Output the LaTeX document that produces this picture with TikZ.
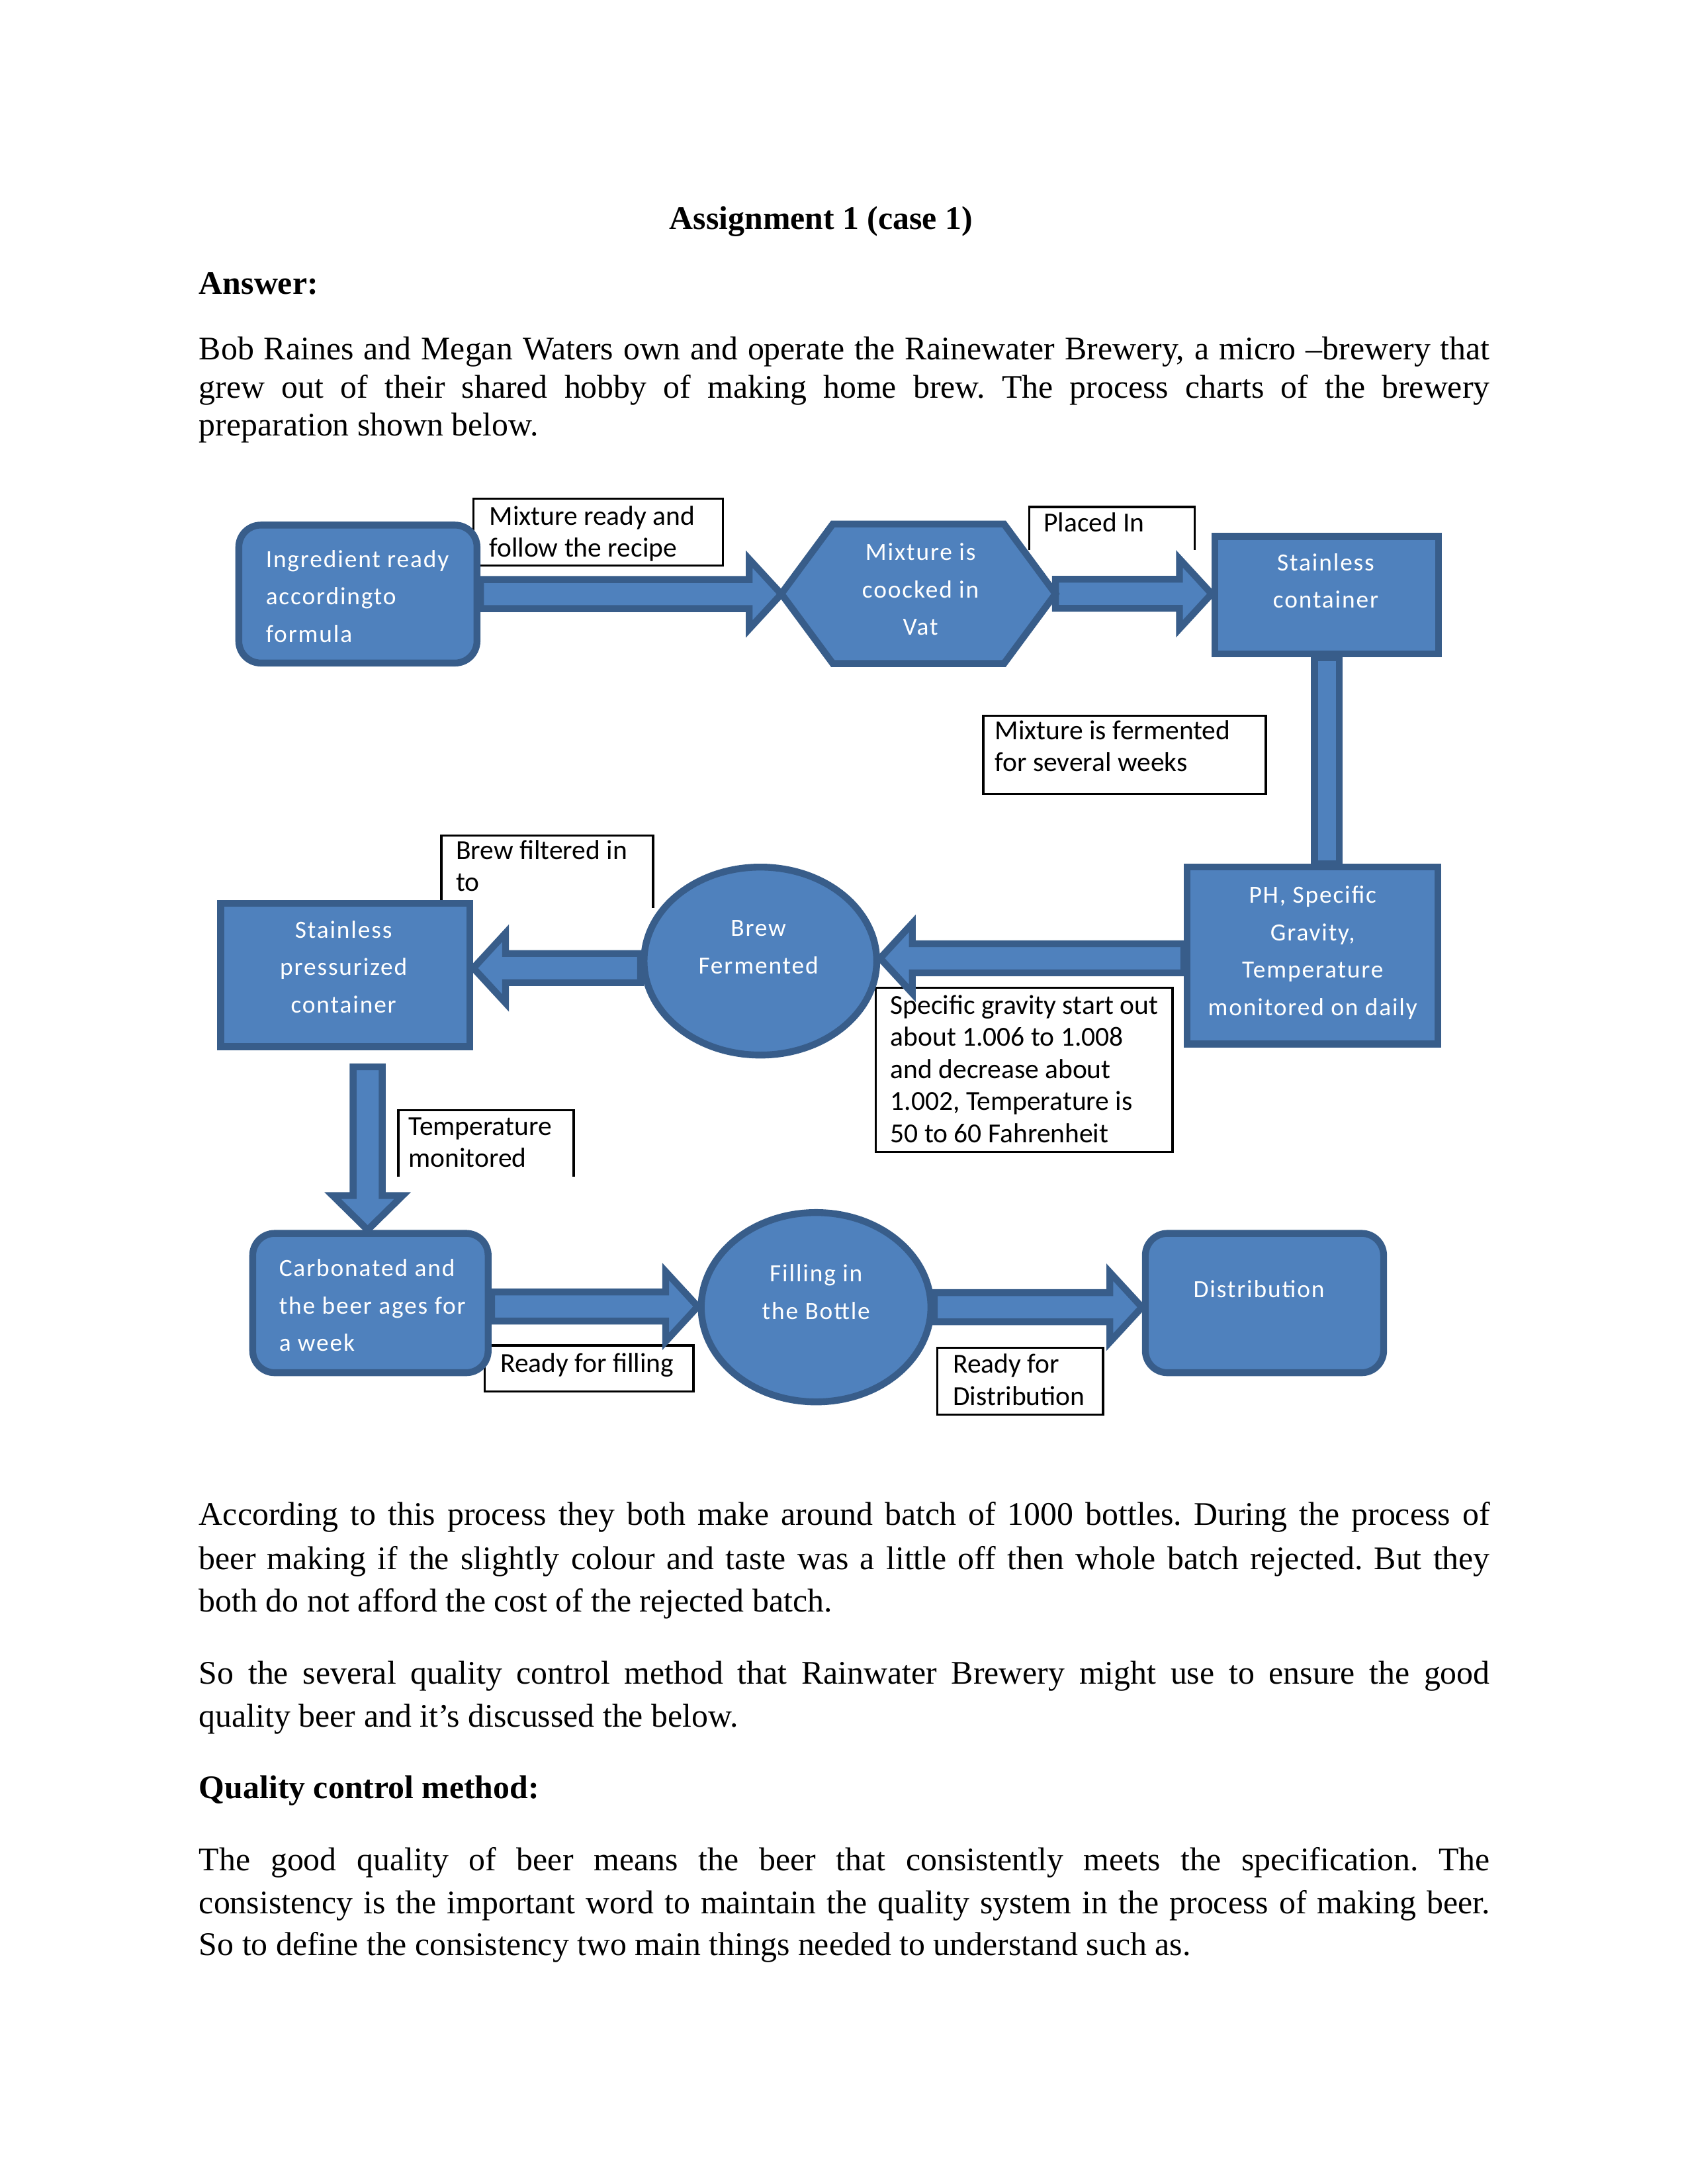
\documentclass[tikz,border=0pt]{standalone}
\usepackage{fontspec}
\setmainfont{Liberation Serif}
\newfontfamily\diagfont{Carlito}
\newfontfamily\boxfont[LetterSpace=5]{Carlito}
\usetikzlibrary{shapes.geometric,calc}
\definecolor{blu}{RGB}{79,129,189}
\definecolor{bdr}{RGB}{56,93,138}
\pgfdeclarelayer{bg}
\pgfsetlayers{bg,main}
\frenchspacing
\newcommand{\blkH}[2]{\draw[blk] let \p1=(#1), \p2=(#2), \n1={sign(\x2-\x1)} in
 ({\x1},{\y1+5.3pt}) -- ({\x2-(\n1)*11.7pt},{\y1+5.3pt}) -- ({\x2-(\n1)*11.7pt},{\y1+12.7pt}) -- ({\x2},{\y1}) -- ({\x2-(\n1)*11.7pt},{\y1-12.7pt}) -- ({\x2-(\n1)*11.7pt},{\y1-5.3pt}) -- ({\x1},{\y1-5.3pt}) -- cycle;}
\newcommand{\blkV}[2]{\draw[blk] let \p1=(#1), \p2=(#2), \n1={sign(\y2-\y1)} in
 ({\x1+5.3pt},{\y1}) -- ({\x1+5.3pt},{\y2-(\n1)*12.5pt}) -- ({\x1+12.7pt},{\y2-(\n1)*12.5pt}) -- ({\x1},{\y2}) -- ({\x1-12.7pt},{\y2-(\n1)*12.5pt}) -- ({\x1-5.3pt},{\y2-(\n1)*12.5pt}) -- ({\x1-5.3pt},{\y1}) -- cycle;}
\begin{document}
\begin{tikzpicture}[x=0.5069pt,y=-0.5069pt,
  shp/.style={draw=bdr, fill=blu, line width=2.5pt, inner sep=0pt},
  rbox/.style={shp, rectangle, rounded corners=8pt},
  sbox/.style={shp, rectangle},
  ell/.style={shp, ellipse},
  blk/.style={draw=bdr, fill=blu, line width=2.5pt, line join=miter},
  lblbox/.style={draw=black, line width=0.8pt, fill=white},
  ltxt/.style={font=\diagfont\fontsize{10}{11.7}\selectfont, align=left, inner sep=0pt, anchor=base west},
  wtxt/.style={font=\boxfont\fontsize{9}{13.6}\selectfont, text=white, inner sep=0pt, anchor=base, align=center},
  wtxtl/.style={wtxt, anchor=base west, align=left},
  body/.style={font=\fontsize{12}{14}\selectfont, inner sep=0pt, anchor=base west},
  bodyb/.style={font=\bfseries\fontsize{12}{14}\selectfont, inner sep=0pt, anchor=base west}]
\useasboundingbox (0,0) rectangle (1212,1568);

% ---------- body text ----------
\node[bodyb, anchor=base] (title) at (589.6,164.5) {Assignment 1 (case 1)};
\node[bodyb] (ans) at (142.6,211) {Answer:};
\node[body] (p1a) at (142.6,258) {\makebox[469.8pt][s]{Bob Raines and Megan Waters own and operate the Rainewater Brewery, a micro –brewery that}};
\node[body] (p1b) at (142.6,286) {\makebox[469.8pt][s]{grew out of their shared hobby of making home brew. The process charts of the brewery}};
\node[body] (p1c) at (142.6,313) {preparation shown below.};

\node[body] (p2a) at (142.6,1095) {\makebox[469.8pt][s]{According to this process they both make around batch of 1000 bottles. During the process of}};
\node[body] (p2b) at (142.6,1127) {\makebox[469.8pt][s]{beer making if the slightly colour and taste was a little off then whole batch rejected. But they}};
\node[body] (p2c) at (142.6,1157) {both do not afford the cost of the rejected batch.};
\node[body] (p3a) at (142.6,1209) {\makebox[469.8pt][s]{So the several quality control method that Rainwater Brewery might use to ensure the good}};
\node[body] (p3b) at (142.6,1240) {quality beer and it’s discussed the below.};
\node[bodyb] (qcm) at (142.6,1291) {Quality control method:};
\node[body] (p4a) at (142.6,1343) {\makebox[469.8pt][s]{The good quality of beer means the beer that consistently meets the specification. The}};
\node[body] (p4b) at (142.6,1374) {\makebox[469.8pt][s]{consistency is the important word to maintain the quality system in the process of making beer.}};
\node[body] (p4c) at (142.6,1404) {So to define the consistency two main things needed to understand such as.};

% ---------- shapes ----------
\node[rbox, minimum width=86.7pt, minimum height=50.2pt] (ing) at (257,426.5) {};
\node[inner sep=0pt, minimum width=99.4pt, minimum height=50.4pt] (hex) at (659.5,426.3) {};
\draw[shp] (hex.west) -- ($(hex.north west)+(37,0)$) -- ($(hex.north east)+(-37,0)$) -- (hex.east) -- ($(hex.south east)+(-37,0)$) -- ($(hex.south west)+(37,0)$) -- cycle;
\node[sbox, minimum width=81.4pt, minimum height=42.8pt] (sc) at (952.8,427.3) {};
\node[sbox, minimum width=91.2pt, minimum height=64.4pt] (ph) at (942.5,686) {};
\node[ell, minimum width=84.7pt, minimum height=68.4pt] (brew) at (546,690) {};
\node[sbox, minimum width=90.7pt, minimum height=52.2pt] (sp) at (248,700) {};
\node[rbox, minimum width=85.7pt, minimum height=50.7pt] (carb) at (266,935.5) {};
\node[ell, minimum width=83.6pt, minimum height=68.9pt] (fill) at (586,938.5) {};
\node[rbox, minimum width=86.7pt, minimum height=50.7pt] (dist) at (908,935.5) {};

% ---------- labels and connectors (behind shapes) ----------
\begin{pgfonlayer}{bg}
\draw[lblbox] (340,358) rectangle (519,406);
\draw[lblbox] (739,395) |- (858,364) -- (858,395);
\draw[lblbox] (706,514) rectangle (909,570);
\draw[lblbox] (317,652) |- (469,600) -- (469,652);
\draw[lblbox] (629,709) rectangle (842,827);
\draw[lblbox] (286,845) |- (412,797) -- (412,845);
\draw[lblbox] (348,966) rectangle (498,999);
\draw[lblbox] (673,967.5) rectangle (792,1015.5);

\blkH{ing.east}{hex.west}
\blkH{hex.east}{sc.west}
\draw[blk] ($(sc.south)+(-9,0)$) rectangle ($(sc.south |- ph.north)+(9,0)$);
\blkH{$(ph.west)+(0,2)$}{brew.east}
\blkH{$(brew.west)+(0,5)$}{sp.east}
\blkV{$(carb.north |- sp.south)+(-2,12)$}{$(carb.north)+(-2,0)$}
\blkH{$(carb.east)+(0,2.5)$}{fill.west}
\blkH{fill.east}{dist.west}
\end{pgfonlayer}

% ---------- label texts (anchored at the baseline of the last line) ----------
\node[ltxt] (t1) at (351,400) {Mixture ready and\\follow the recipe};
\node[ltxt] (t2) at (749,382) {Placed In};
\node[ltxt] (t3) at (714,554) {Mixture is fermented\\for several weeks};
\node[ltxt] (t4) at (327,640) {Brew filtered in\\to};
\node[ltxt] (t5) at (639,820.3) {Specific gravity start out\\about 1.006 to 1.008\\and decrease about\\1.002, Temperature is\\50 to 60 Fahrenheit};
\node[ltxt] (t6) at (293,838) {Temperature\\monitored};
\node[ltxt] (t7) at (359,985) {Ready for filling};
\node[ltxt] (t8) at (684,1009) {Ready for\\Distribution};

% ---------- white texts in shapes ----------
\node[wtxtl] (wing) at (190.5,461) {Ingredient ready\\accordingto\\formula};
\node[wtxt] (whex) at (661,456) {Mixture is\\coocked in\\Vat};
\node[wtxt] (wsc) at (952,436.5) {Stainless\\container};
\node[wtxt] (wph) at (942.6,729) {PH, Specific\\Gravity,\\Temperature\\monitored on daily};
\node[wtxt] (wsp) at (246.7,727) {Stainless\\pressurized\\container};
\node[wtxt] (wbrew) at (544.6,699) {Brew\\Fermented};
\node[wtxtl] (wcarb) at (200,970) {Carbonated and\\the beer ages for\\a week};
\node[wtxt] (wfill) at (586,947) {Filling in\\the Bottle};
\node[wtxt] (wdist) at (904,931.6) {Distribution};
\end{tikzpicture}
\end{document}
